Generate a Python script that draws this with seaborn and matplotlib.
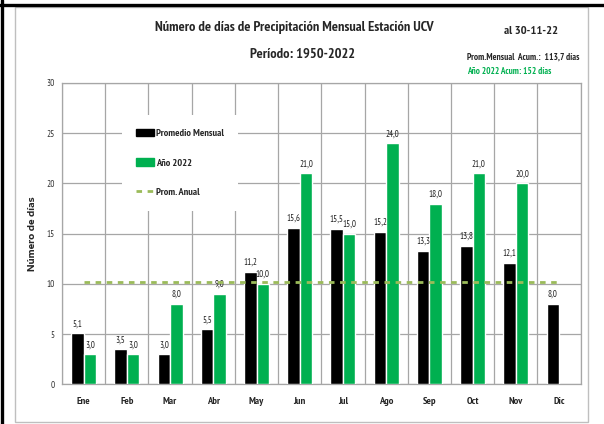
import numpy as np
import pandas as pd
import matplotlib
matplotlib.use('Agg')
import matplotlib.pyplot as plt
import seaborn as sns
from matplotlib.lines import Line2D
from matplotlib.patches import Patch, Rectangle
from matplotlib.font_manager import FontProperties
from matplotlib.textpath import TextPath

# datos
meses = ['Ene', 'Feb', 'Mar', 'Abr', 'May', 'Jun', 'Jul', 'Ago', 'Sep', 'Oct', 'Nov', 'Dic']
promedio_mensual = [5.1, 3.5, 3.0, 5.5, 11.2, 15.6, 15.5, 15.2, 13.3, 13.8, 12.1, 8.0]
anio_2022 = [3.0, 3.0, 8.0, 9.0, 10.0, 21.0, 15.0, 24.0, 18.0, 21.0, 20.0, np.nan]
series = ['Promedio Mensual', 'Año 2022']

prom_anual = np.mean(promedio_mensual)

df = pd.DataFrame({
    'Mes': meses * 2,
    'Dias': promedio_mensual + anio_2022,
    'Serie': [series[0]] * 12 + [series[1]] * 12,
})

verde = '#00B050'
gris = '#a6a6a6'
olivo = '#9BBB59'
fuente = ['PT Sans Narrow', 'DejaVu Sans']


def tam(texto, px, weight='bold', fam=fuente):
    # tamaño de letra (pt) para que el texto mida px pixeles de ancho
    fp = FontProperties(family=fam, weight=weight, size=10)
    w = TextPath((0, 0), texto, prop=fp).get_extents().width
    return 10 * px / (w * 100 / 72)


sns.set_style('white')
plt.rcParams['font.family'] = fuente

fig = plt.figure(figsize=(6.04, 4.24), dpi=100)
ax = fig.add_axes([62 / 604, 1 - 384.3 / 424, (580.7 - 62) / 604, (384.3 - 83) / 424])

sns.barplot(data=df, x='Mes', y='Dias', hue='Serie', hue_order=series,
            palette={series[0]: 'black', series[1]: verde}, saturation=1,
            width=0.58, gap=0, errorbar=None, legend=False, ax=ax, zorder=3)

t_barra = tam('21,0', 13, weight='normal')
for c in ax.containers:
    labels = [f'{b.get_height():.1f}'.replace('.', ',') for b in c]
    ax.bar_label(c, labels=labels, padding=3.5, fontsize=t_barra, color='#222222')

# linea del promedio anual
ax.plot(range(len(meses)), [prom_anual] * len(meses), color=olivo, lw=2,
        linestyle=(0, (2, 2)), zorder=4)

ax.set_xlim(-0.5, 11.5)
ax.set_ylim(0, 30)
ax.set_yticks(range(0, 31, 5))
ax.set_xticks(np.arange(-0.5, 12, 1), minor=True)
ax.set_axisbelow(True)
ax.yaxis.grid(True, color=gris, lw=0.9)
ax.xaxis.grid(True, which='minor', color=gris, lw=0.9)
ax.xaxis.grid(False, which='major')
for s in ax.spines.values():
    s.set_color(gris)
    s.set_linewidth(0.9)

ax.tick_params(axis='x', which='both', length=0, pad=9.5, labelsize=tam('May', 15))
ax.tick_params(axis='y', length=0, pad=5, labelsize=tam('30', 7.3, weight='normal'),
               labelcolor='#333333')
for t in ax.get_xticklabels():
    t.set_fontweight('bold')
ax.set_xlabel('')
fam_y = ['Encode Sans Expanded', 'DejaVu Sans']
ax.set_ylabel('Número de días', fontweight='bold', labelpad=7, family=fam_y,
              fontsize=6.3)

# leyenda
t_ley = tam('Promedio Mensual', 67)
em = t_ley * 100 / 72
handles = [Patch(color='black', label='Promedio Mensual'),
           Patch(color=verde, label='Año 2022'),
           Line2D([], [], color=olivo, lw=2, linestyle=(0, (2, 2)), label='Prom. Anual')]
leg = ax.legend(handles=handles, loc='upper left',
                bbox_to_anchor=((122 - 62) / 518.7, 1 - (115 - 83) / 301.3),
                frameon=True, framealpha=1, facecolor='white', edgecolor='white',
                prop={'weight': 'bold', 'size': t_ley}, labelspacing=33 / em - 1.25,
                handlelength=18 / em, handleheight=0.7, handletextpad=2 / em,
                borderpad=14 / em, borderaxespad=0, fancybox=False)
leg.get_frame().set_linewidth(0)
leg.set_zorder(5)

# titulos y notas
titulo = 'Número de días de Precipitación Mensual Estación UCV'
periodo = 'Período: 1950-2022'
fecha = 'al 30-11-22'
nota1 = 'Prom.Mensual  Acum.:  113,7 días'
nota2 = 'Año 2022 Acum: 152 días'
fig.text(294 / 604, 1 - 27 / 424, titulo, ha='center', va='center',
         fontsize=tam(titulo, 278), fontweight='bold')
fig.text(303 / 604, 1 - 54 / 424, periodo, ha='center', va='center',
         fontsize=tam(periodo, 104), fontweight='bold')
fig.text(531 / 604, 1 - 31 / 424, fecha, ha='center', va='center',
         fontsize=tam(fecha, 53), fontweight='bold')
fig.text(467 / 604, 1 - 57 / 424, nota1, ha='left', va='center',
         fontsize=tam(nota1, 112), fontweight='bold')
fig.text(467 / 604, 1 - 72 / 424, nota2, ha='left', va='center',
         fontsize=tam(nota2, 84), fontweight='bold', color=verde)

# marcos
fig.add_artist(Rectangle((15 / 604, 2 / 424), (588 - 15) / 604, (422 - 7) / 424,
                         transform=fig.transFigure, fill=False, ec='#bfbfbf', lw=1))
fig.add_artist(Line2D([0, 1], [1 - 4.5 / 424] * 2, color='black', lw=2.4))
fig.add_artist(Line2D([1.5 / 604] * 2, [0, 1], color='black', lw=2.4))

fig.savefig('out.png', dpi=100)
